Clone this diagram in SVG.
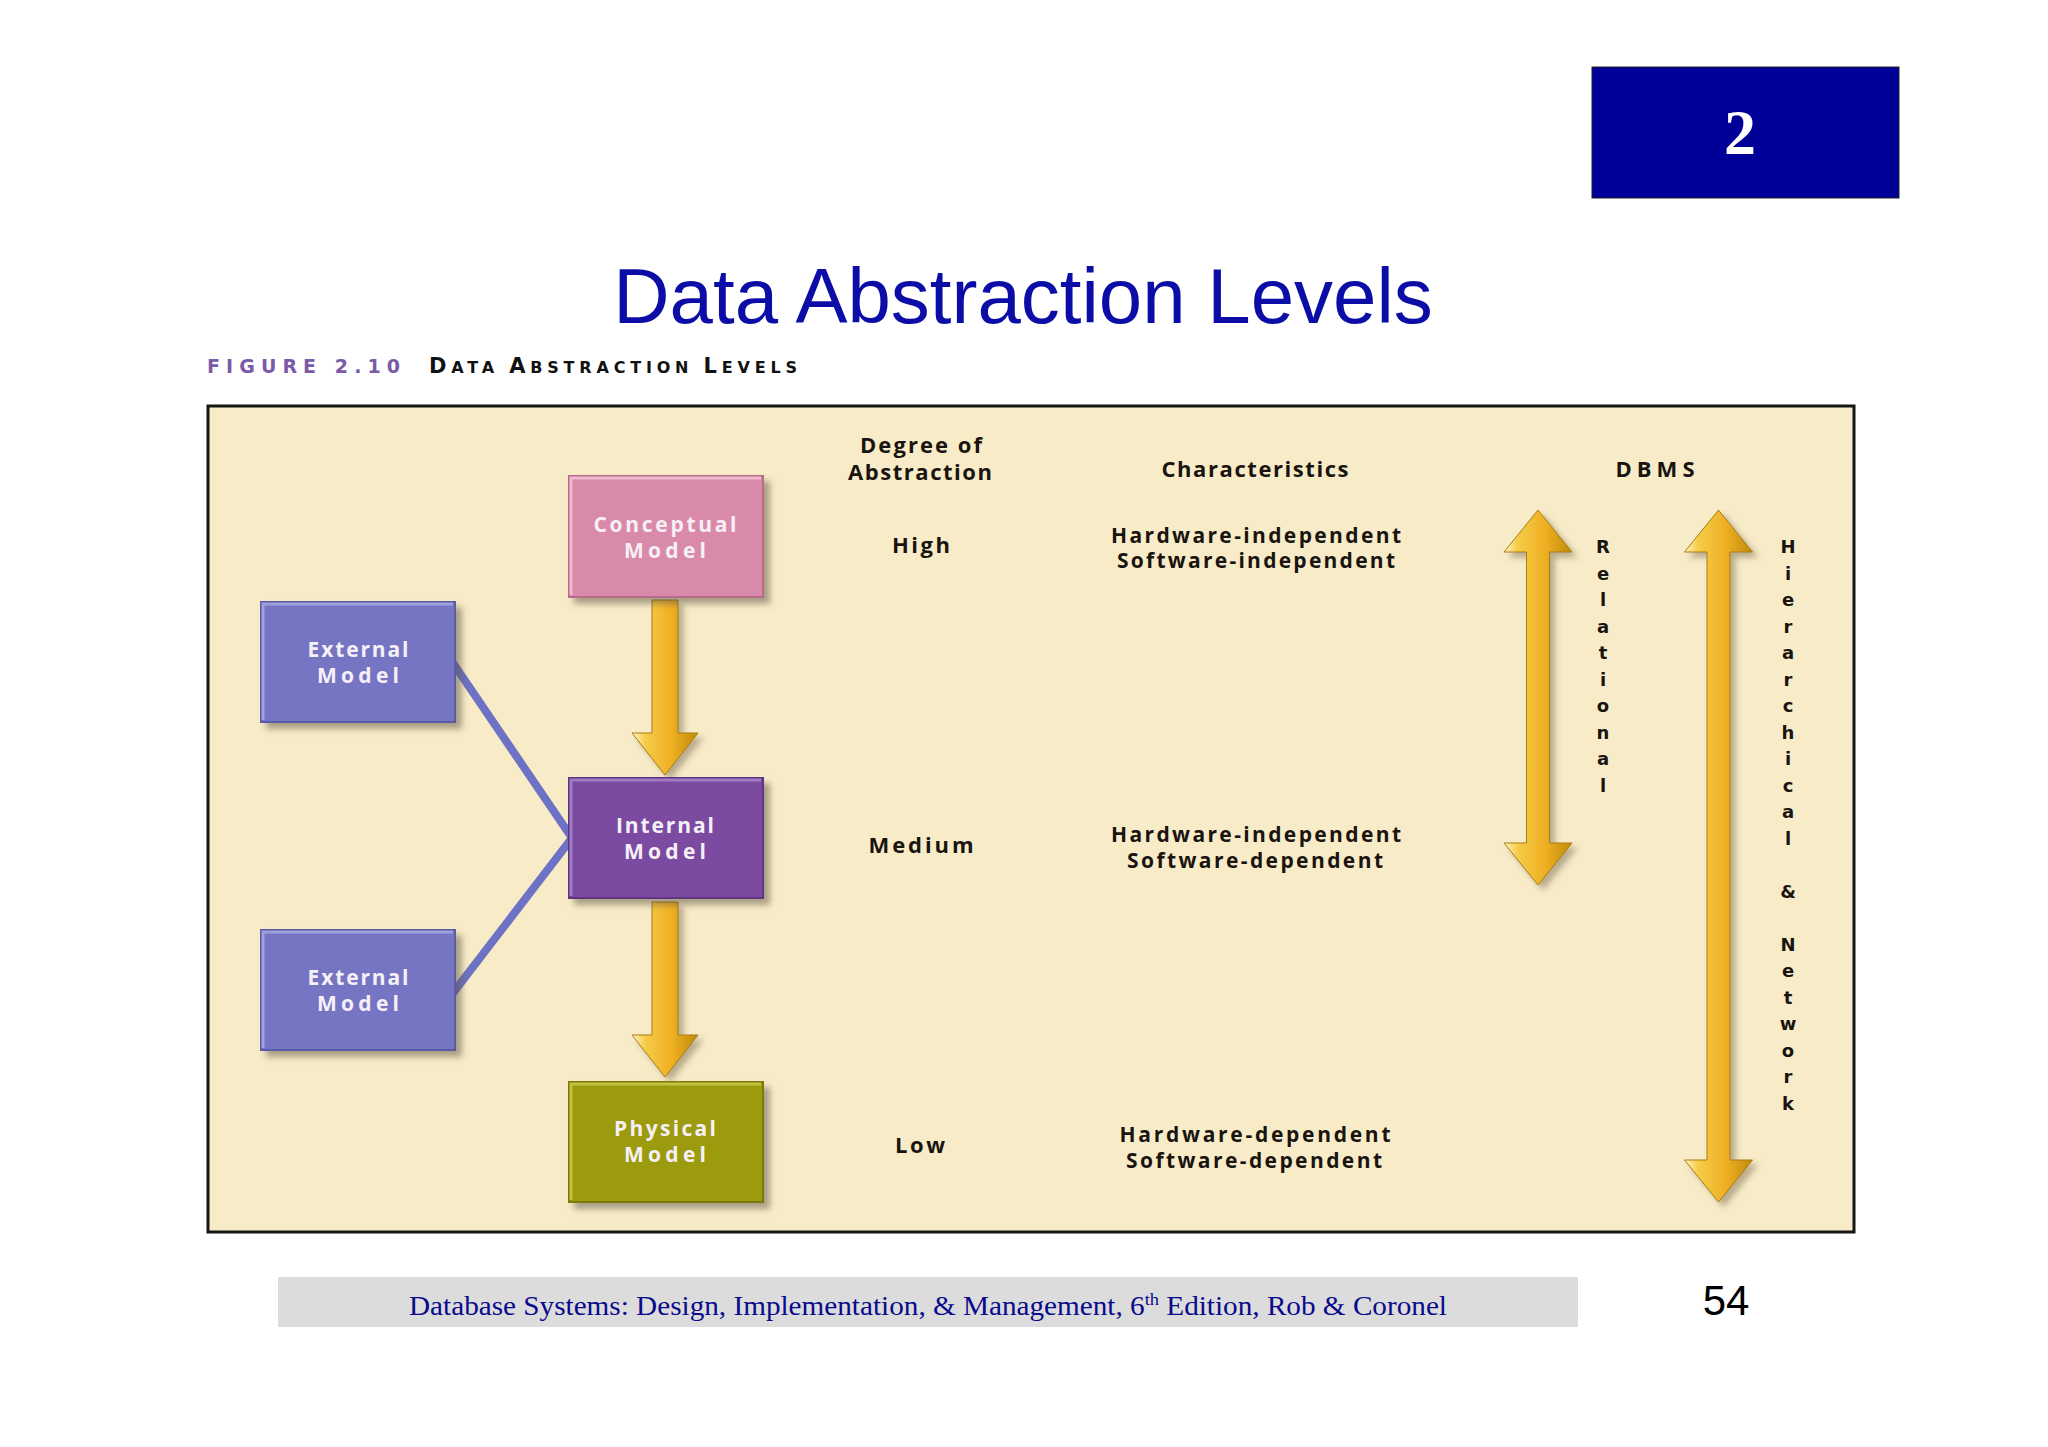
<svg xmlns="http://www.w3.org/2000/svg" width="2048" height="1447" viewBox="0 0 2048 1447">
<defs>
<style>
.lbl{font-family:"Open Sans","DejaVu Sans",sans-serif;font-weight:700;font-size:21px;fill:#f6f0f6;text-anchor:middle}
.col{font-family:"Open Sans","DejaVu Sans",sans-serif;font-weight:700;font-size:22px;fill:#1a1410;text-anchor:middle}
.chr{font-family:"Open Sans","DejaVu Sans",sans-serif;font-weight:700;font-size:21px;fill:#1a1410;text-anchor:middle}
.vl{font-family:"DejaVu Sans",sans-serif;font-weight:700;font-size:18px;fill:#1a1410;text-anchor:middle}
.conn{stroke:#6e72c4;stroke-width:8;fill:none}
.gold{fill:url(#goldH);stroke:#a87c10;stroke-width:1;filter:url(#sh)}
</style>
<linearGradient id="goldH" x1="0" y1="0" x2="1" y2="0">
<stop offset="0" stop-color="#fff6c8"/>
<stop offset="0.2" stop-color="#f6cc48"/>
<stop offset="0.6" stop-color="#efb024"/>
<stop offset="1" stop-color="#c08a08"/>
</linearGradient>
<filter id="sh" x="-30%" y="-10%" width="160%" height="120%">
<feDropShadow dx="5" dy="5" stdDeviation="3" flood-color="#6a5a40" flood-opacity="0.45"/>
</filter>
<filter id="bsh" x="-10%" y="-10%" width="130%" height="130%">
<feDropShadow dx="6" dy="6" stdDeviation="3" flood-color="#5a5040" flood-opacity="0.5"/>
</filter>
</defs>
<rect width="2048" height="1447" fill="#ffffff"/>
<g id="chapter-badge">
<rect x="1592" y="67" width="307" height="131" fill="#000099" stroke="#222" stroke-width="1"/>
<text x="1740" y="154" font-family="Liberation Serif,serif" font-weight="700" font-size="64" fill="#ffffff" text-anchor="middle">2</text>
</g>
<text id="title" x="1023" y="323" font-family="Liberation Sans,Arial,sans-serif" font-size="78" fill="#0c0ca6" text-anchor="middle">Data Abstraction Levels</text>
<g id="caption">
<text x="207" y="373" font-family="DejaVu Sans,sans-serif" font-weight="700" font-size="19" fill="#7a5aa8" textLength="193" lengthAdjust="spacing">FIGURE 2.10</text>
<text x="429" y="373" font-family="DejaVu Sans,sans-serif" font-weight="700" font-size="21" fill="#111" textLength="368" lengthAdjust="spacing">D<tspan font-size="16">ATA </tspan>A<tspan font-size="16">BSTRACTION </tspan>L<tspan font-size="16">EVELS</tspan></text>
</g>
<rect id="panel" x="208" y="406" width="1646" height="826" fill="#f8ecc8" stroke="#151515" stroke-width="3"/>
<g id="connectors">
<line class="conn" x1="453" y1="663" x2="572" y2="838"/>
<line class="conn" x1="453" y1="993" x2="572" y2="838"/>
<path class="gold" d="M652,600 L678,600 L678,733 L698,733 L665,775 L632,733 L652,733 Z"/>
<path class="gold" d="M652,902 L678,902 L678,1035 L698,1035 L665,1077 L632,1035 L652,1035 Z"/>
<path class="gold" d="M1538,510 L1572,552 L1549.5,552 L1549.5,843 L1572,843 L1538,885 L1504,843 L1526.5,843 L1526.5,552 L1504,552 Z"/>
<path class="gold" d="M1718.5,510 L1752.5,552 L1730,552 L1730,1160 L1752.5,1160 L1718.5,1202 L1684.5,1160 L1707,1160 L1707,552 L1684.5,552 Z"/>
</g>
<g id="conceptual-model">
<rect x="569" y="476" width="194" height="121" fill="#d98aaa" stroke="#b86c8c" stroke-width="2" filter="url(#bsh)"/>
<path d="M571,595 L571,478 L761,478" stroke="#f0b8cc" stroke-width="3" fill="none"/>
<text class="lbl" x="665" y="532" textLength="143" lengthAdjust="spacing">Conceptual</text>
<text class="lbl" x="665" y="558" textLength="82" lengthAdjust="spacing">Model</text>
</g>
<g id="external-model-1">
<rect x="261" y="602" width="194" height="120" fill="#7474c4" stroke="#5a5aa8" stroke-width="2" filter="url(#bsh)"/>
<path d="M263,720 L263,604 L453,604" stroke="#a0a0dc" stroke-width="3" fill="none"/>
<text class="lbl" x="358" y="657" textLength="101" lengthAdjust="spacing">External</text>
<text class="lbl" x="358" y="683" textLength="82" lengthAdjust="spacing">Model</text>
</g>
<g id="internal-model">
<rect x="569" y="778" width="194" height="120" fill="#7a4ca0" stroke="#5e3684" stroke-width="2" filter="url(#bsh)"/>
<path d="M571,896 L571,780 L761,780" stroke="#a07cc0" stroke-width="3" fill="none"/>
<text class="lbl" x="665" y="833" textLength="98" lengthAdjust="spacing">Internal</text>
<text class="lbl" x="665" y="859" textLength="82" lengthAdjust="spacing">Model</text>
</g>
<g id="external-model-2">
<rect x="261" y="930" width="194" height="120" fill="#7474c4" stroke="#5a5aa8" stroke-width="2" filter="url(#bsh)"/>
<path d="M263,1048 L263,932 L453,932" stroke="#a0a0dc" stroke-width="3" fill="none"/>
<text class="lbl" x="358" y="985" textLength="101" lengthAdjust="spacing">External</text>
<text class="lbl" x="358" y="1011" textLength="82" lengthAdjust="spacing">Model</text>
</g>
<g id="physical-model">
<rect x="569" y="1082" width="194" height="120" fill="#9c9a10" stroke="#7c7a08" stroke-width="2" filter="url(#bsh)"/>
<path d="M571,1200 L571,1084 L761,1084" stroke="#c4c240" stroke-width="3" fill="none"/>
<text class="lbl" x="665" y="1136" textLength="102" lengthAdjust="spacing">Physical</text>
<text class="lbl" x="665" y="1162" textLength="82" lengthAdjust="spacing">Model</text>
</g>
<g id="column-headers">
<text class="col" x="921" y="453" textLength="122" lengthAdjust="spacing">Degree of</text>
<text class="col" x="920" y="480" textLength="144" lengthAdjust="spacing">Abstraction</text>
<text class="col" x="1255" y="477" textLength="187" lengthAdjust="spacing">Characteristics</text>
<text class="col" x="1655" y="477" textLength="79" lengthAdjust="spacing">DBMS</text>
</g>
<g id="level-high">
<text class="col" x="921" y="553" textLength="58" lengthAdjust="spacing">High</text>
<text class="chr" x="1256" y="543" textLength="290" lengthAdjust="spacing">Hardware-independent</text>
<text class="chr" x="1256" y="568" textLength="278" lengthAdjust="spacing">Software-independent</text>
</g>
<g id="level-medium">
<text class="col" x="921" y="853" textLength="105" lengthAdjust="spacing">Medium</text>
<text class="chr" x="1256" y="842" textLength="290" lengthAdjust="spacing">Hardware-independent</text>
<text class="chr" x="1255" y="868" textLength="256" lengthAdjust="spacing">Software-dependent</text>
</g>
<g id="level-low">
<text class="col" x="920" y="1153" textLength="50" lengthAdjust="spacing">Low</text>
<text class="chr" x="1255" y="1142" textLength="271" lengthAdjust="spacing">Hardware-dependent</text>
<text class="chr" x="1254" y="1168" textLength="256" lengthAdjust="spacing">Software-dependent</text>
</g>
<g id="relational-label">
<text class="vl" x="1603" y="553">R</text>
<text class="vl" x="1603" y="580">e</text>
<text class="vl" x="1603" y="606">l</text>
<text class="vl" x="1603" y="633">a</text>
<text class="vl" x="1603" y="659">t</text>
<text class="vl" x="1603" y="686">i</text>
<text class="vl" x="1603" y="712">o</text>
<text class="vl" x="1603" y="739">n</text>
<text class="vl" x="1603" y="765">a</text>
<text class="vl" x="1603" y="792">l</text>
</g>
<g id="hierarchical-network-label">
<text class="vl" x="1788" y="553">H</text>
<text class="vl" x="1788" y="580">i</text>
<text class="vl" x="1788" y="606">e</text>
<text class="vl" x="1788" y="633">r</text>
<text class="vl" x="1788" y="659">a</text>
<text class="vl" x="1788" y="686">r</text>
<text class="vl" x="1788" y="712">c</text>
<text class="vl" x="1788" y="739">h</text>
<text class="vl" x="1788" y="765">i</text>
<text class="vl" x="1788" y="792">c</text>
<text class="vl" x="1788" y="818">a</text>
<text class="vl" x="1788" y="845">l</text>
<text class="vl" x="1788" y="898">&amp;</text>
<text class="vl" x="1788" y="951">N</text>
<text class="vl" x="1788" y="977">e</text>
<text class="vl" x="1788" y="1004">t</text>
<text class="vl" x="1788" y="1030">w</text>
<text class="vl" x="1788" y="1057">o</text>
<text class="vl" x="1788" y="1083">r</text>
<text class="vl" x="1788" y="1110">k</text>
</g>
<g id="footer">
<rect x="278" y="1277" width="1300" height="50" fill="#dcdcdc"/>
<text x="928" y="1315" font-family="Liberation Serif,serif" font-size="27" fill="#0a0a8c" text-anchor="middle" textLength="1038" lengthAdjust="spacingAndGlyphs">Database Systems: Design, Implementation, &amp; Management, 6<tspan font-size="17" dy="-10">th</tspan><tspan dy="10"> Edition, Rob &amp; Coronel</tspan></text>
<text x="1726" y="1315" font-family="Liberation Sans,Arial,sans-serif" font-size="42" fill="#000" text-anchor="middle">54</text>
</g>
</svg>
